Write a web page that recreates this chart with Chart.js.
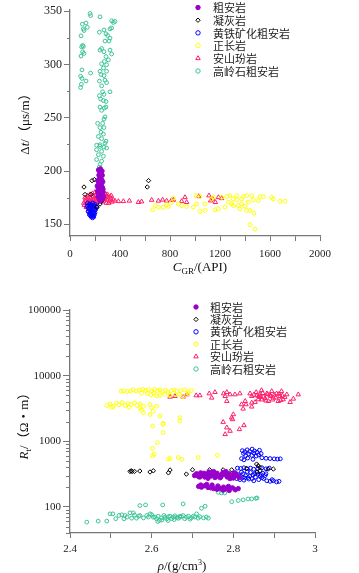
<!DOCTYPE html>
<html><head><meta charset="utf-8">
<script src="https://cdn.jsdelivr.net/npm/chart.js@4/dist/chart.umd.min.js"></script>
<style>
html,body{margin:0;padding:0;background:#fff;}
#wrap{position:relative;width:359px;height:573px;overflow:hidden;background:#fff;}
.box{position:absolute;left:0;width:359px;}
.ttl{position:absolute;white-space:nowrap;font-family:"Liberation Serif","Noto Sans CJK SC",serif;font-size:13px;color:#111;transform:translate(-50%,-50%);line-height:1;}
.rot{transform:translate(-50%,-50%) rotate(-90deg);}
.ttl sub{font-size:9px;vertical-align:-3px;}
.ttl sup{font-size:8px;vertical-align:5px;}
</style></head><body>
<div id="wrap">
 <div class="box" style="top:0;height:285px"><canvas id="cTop"></canvas></div>
 <div class="box" style="top:290px;height:283px"><canvas id="cBot"></canvas></div>
 <div class="ttl rot" style="left:24px;top:121px">Δ<i>t</i>/（μs/m）</div>
 <div class="ttl" style="left:200px;top:268px"><i>C</i><sub>GR</sub>/(API)</div>
 <div class="ttl rot" style="left:25px;top:423px"><i>R</i><sub>t</sub>/（Ω・m）</div>
 <div class="ttl" style="left:182px;top:565px"><i>ρ</i>/(g/cm<sup>3</sup>)</div>
</div>
<script>
// ---------- labels ----------
const legendLabels = ['粗安岩','凝灰岩','黄铁矿化粗安岩','正长岩','安山玢岩','高岭石粗安岩'];
const topXTicks = [0,200,400,600,800,1000,1200,1400,1600,1800,2000];
const topXTickLabels = ['0','','400','','800','','1200','','1600','','2000'];
const topYTicks = [150,200,250,300,350];
const topYMinor = [175,225,275,325];
const botXTicks = [2.4,2.5,2.6,2.7,2.8,2.9,3.0];
const botXTickLabels = ['2.4','','2.6','','2.8','','3'];
const botYTicks = [100,1000,10000,100000];
const botYMinor = [40,50,60,70,80,90,200,300,400,500,600,700,800,900,2000,3000,4000,5000,6000,7000,8000,9000,20000,30000,40000,50000,60000,70000,80000,90000];

// ---------- top chart: CGR (API) vs Δt (μs/m) ----------
const topTrachy = [[228,201],[240,199],[250,198],[232,196],[246,195],[258,196],[236,193],[252,192],[222,191],[244,190],[262,190],[230,188],[250,187],[238,186],[258,185],[226,184],[246,183],[234,182],[254,182],[220,181],[242,180],[262,180],[230,179],[250,178],[238,177],[258,177],[224,176],[246,175],[268,176],[234,174],[252,173],[240,172],[226,178],[264,183],[218,186],[248,189],[236,197],[256,200],[244,202],[260,174]];
const topTuff = [[112,185],[120,178],[168,178],[176,191],[195,192],[628,191],[618,185],[215,166],[255,172],[240,169]];
const topPyrite = [[140,170],[150,168],[160,169],[170,168],[180,170],[190,168],[200,169],[210,167],[145,165],[155,164],[165,165],[175,166],[185,164],[195,165],[205,164],[150,162],[160,161],[170,162],[180,161],[190,162],[200,161],[155,159],[165,158],[175,159],[185,158],[195,159],[170,157],[180,156],[160,160],[190,160],[135,167],[215,166],[175,163],[165,167],[185,167],[145,162],[200,163],[170,160],[180,158],[190,157]];
const topSyenite = [[680,167.6],[661,163.6],[707,166],[747,166],[773,168.5],[787,166.7],[827,174.7],[813,170.6],[867,169.1],[893,167.6],[933,166.7],[987,166.1],[1013,169.2],[1008,176.9],[1040,176],[1080,169.2],[1080,163],[1040,162.1],[1133,173.8],[1147,175.3],[1160,163.6],[1187,164.5],[1213,175.3],[1253,176],[1267,170.7],[1293,169.2],[1307,173.8],[1333,172.9],[1347,167.6],[1373,173.8],[1387,176],[1413,176.9],[1427,170.7],[1440,163],[1413,163],[1453,176.9],[1467,172.9],[1507,172.3],[1547,176],[1613,175.3],[1627,173.8],[1680,171.6],[1720,171.6],[1472,160.5],[1440,149.7],[1480,145.4],[1307,167.6],[1240,166.1],[1360,164.5],[1400,167],[1520,176],[1280,176.9],[1333,176.9],[1373,169.2]];
const topAndesite = [[115,168],[125,172],[135,170],[145,174],[155,172],[165,175],[175,173],[185,176],[195,174],[205,177],[215,175],[225,178],[235,176],[245,179],[255,175],[265,177],[275,174],[285,176],[295,173],[305,175],[315,172],[325,174],[335,171],[345,173],[130,166],[150,167],[170,169],[190,170],[210,171],[230,172],[250,171],[270,172],[290,170],[310,170],[120,175],[140,177],[160,178],[180,179],[200,180],[220,180],[240,181],[260,180],[280,179],[110,170],[128,174],[148,171],[168,172],[188,173],[208,173],[228,174],[248,173],[268,174],[288,178],[300,178],[320,176],[330,177],[138,168],[158,166],[178,167],[198,167],[360,172],[387,171.6],[427,171.6],[475,172],[547,170.7],[573,171.3],[653,172.8],[707,172],[741,173],[773,172],[813,172.8],[827,172.8],[920,175.3],[893,171.6],[933,170.7],[1029,176.2],[1112,176.9],[1125,172.2],[1141,173.8],[1163,170.7],[1187,175.3],[1213,174.4]];
const topKaolin = [[99,338],[128,339],[139,335],[107,333.5],[112,332],[88,327],[101,318],[107,317],[93,316.6],[101,312],[112,310.5],[88,308],[96,295],[85,289],[96,287],[128,284.6],[91,281.5],[85,278.5],[165,292],[160,348],[165,346],[240,344.8],[320,333.5],[347,339.6],[333,341.1],[360,340.5],[333,334.4],[288,328.9],[301,327.3],[320,324.9],[235,330.4],[272,332.5],[280,322.1],[312,322.1],[240,313.6],[272,312.1],[253,315.1],[320,313.6],[333,309.9],[288,307.5],[307,304.4],[275,302.9],[293,299.8],[253,300.7],[267,296.8],[240,293.7],[293,293.7],[248,290.7],[272,289.7],[235,284.5],[280,285.4],[293,283],[253,280],[320,274.4],[261,274.4],[272,272],[235,270.8],[245,267.7],[267,266.2],[288,265.3],[240,260.1],[275,259.2],[253,257],[288,260.1],[280,250.9],[272,248.8],[221,244.8],[261,244.8],[240,240.8],[272,240.8],[248,236.5],[267,234.7],[227,232.5],[253,230.4],[288,228],[213,224.3],[240,223.1],[272,222.5],[240,224.7],[280,226.2],[213,220],[253,218.5],[293,221.6],[227,215.4],[267,213.9],[213,210.8],[253,209.3],[240,206.2],[235,203.7]];

// ---------- bottom chart: ρ (g/cm3) vs Rt (Ω·m) ----------
const botTrachy = [[2.705,300],[2.710,320],[2.715,290],[2.720,330],[2.725,305],[2.730,285],[2.735,315],[2.740,340],[2.745,295],[2.750,310],[2.755,280],[2.760,325],[2.765,300],[2.770,290],[2.775,335],[2.780,310],[2.785,285],[2.790,320],[2.795,300],[2.800,275],[2.805,315],[2.810,295],[2.815,280],[2.712,305],[2.728,325],[2.742,300],[2.758,290],[2.772,315],[2.788,300],[2.802,330],[2.718,285],[2.748,330],[2.768,278],[2.782,345],[2.798,288],[2.808,305],[2.738,272],[2.752,345],[2.792,270],[2.722,310],[2.715,205],[2.722,200],[2.730,210],[2.738,198],[2.745,195],[2.752,190],[2.760,185],[2.768,192],[2.775,180],[2.782,188],[2.790,178],[2.798,195],[2.805,182],[2.812,190],[2.735,220],[2.748,215],[2.762,208],[2.776,200],[2.788,205],[2.720,215]];
const botTuff = [[2.547,347],[2.552,347],[2.558,347],[2.550,355],[2.571,352],[2.596,340],[2.604,355],[2.641,330],[2.645,365],[2.685,316],[2.700,367],[2.738,316],[2.742,367],[2.775,367],[2.775,316],[2.796,367],[2.832,385],[2.857,449],[2.861,423],[2.865,399],[2.865,355],[2.858,336],[2.885,377],[2.898,377]];
const botPyrite = [[2.822,720],[2.828,690],[2.834,740],[2.840,700],[2.846,760],[2.852,710],[2.858,680],[2.864,730],[2.825,650],[2.838,640],[2.850,660],[2.862,620],[2.830,600],[2.845,610],[2.856,595],[2.868,650],[2.820,545],[2.835,555],[2.870,560],[2.880,550],[2.890,545],[2.900,540],[2.908,535],[2.915,540],[2.826,520],[2.848,530],[2.810,390],[2.818,385],[2.826,395],[2.834,380],[2.842,390],[2.850,375],[2.860,385],[2.870,395],[2.880,380],[2.888,390],[2.805,330],[2.812,310],[2.818,290],[2.824,320],[2.830,300],[2.836,280],[2.842,335],[2.848,305],[2.854,285],[2.860,315],[2.866,295],[2.872,325],[2.878,300],[2.808,270],[2.816,260],[2.826,255],[2.838,265],[2.850,250],[2.862,260],[2.874,270],[2.882,250],[2.820,340],[2.834,345],[2.846,270],[2.858,340],[2.870,280],[2.880,320],[2.814,285],[2.852,320],[2.868,310],[2.840,295],[2.828,275],[2.890,245],[2.898,250],[2.906,240],[2.912,245],[2.895,260]];
const botSyenite = [[2.525,5780],[2.531,5900],[2.540,5700],[2.548,5850],[2.555,6100],[2.562,5800],[2.570,6000],[2.578,6150],[2.585,5950],[2.592,6100],[2.600,5800],[2.607,6150],[2.614,5900],[2.620,6050],[2.627,5700],[2.634,6000],[2.640,5600],[2.648,5900],[2.655,6050],[2.662,5750],[2.670,5900],[2.680,6100],[2.690,5700],[2.697,5950],[2.590,5300],[2.598,5100],[2.612,4900],[2.620,5000],[2.632,5200],[2.645,4950],[2.658,5100],[2.668,5200],[2.689,5330],[2.677,4780],[2.605,5500],[2.575,5400],[2.490,3500],[2.498,3700],[2.506,3400],[2.514,3800],[2.520,3600],[2.528,3900],[2.535,3500],[2.542,3750],[2.550,3600],[2.558,3850],[2.565,3500],[2.572,3700],[2.580,3400],[2.502,3300],[2.545,3300],[2.571,3240],[2.575,2980],[2.596,3630],[2.600,3240],[2.604,2870],[2.620,2420],[2.596,2560],[2.669,2290],[2.612,3420],[2.580,2720],[2.628,1810],[2.602,1706],[2.628,1875],[2.628,1355],[2.614,955],[2.602,774],[2.606,635],[2.602,599],[2.645,547],[2.641,533],[2.665,566],[2.669,2030],[2.674,530],[2.714,566],[2.761,610]];
const botAndesite = [[2.645,4750],[2.657,4860],[2.677,4750],[2.686,5150],[2.709,4980],[2.718,4980],[2.741,5330],[2.747,4590],[2.755,5580],[2.776,5330],[2.780,4860],[2.784,5580],[2.792,5150],[2.804,5150],[2.816,5330],[2.829,4080],[2.841,5330],[2.845,4860],[2.853,3940],[2.856,5580],[2.861,4330],[2.865,5150],[2.869,5980],[2.874,4750],[2.882,5330],[2.886,4080],[2.890,4980],[2.894,5780],[2.898,4590],[2.906,5330],[2.910,4080],[2.914,4860],[2.918,5780],[2.922,4330],[2.931,5150],[2.939,3940],[2.947,4430],[2.959,5150],[2.858,5000],[2.866,4700],[2.872,5400],[2.878,4500],[2.884,5200],[2.892,4850],[2.900,5100],[2.904,4600],[2.912,5250],[2.920,4950],[2.926,4700],[2.870,4300],[2.880,4150],[2.896,4300],[2.916,4200],[2.850,5100],[2.862,4850],[2.784,4083],[2.820,3640],[2.831,3640],[2.845,3855],[2.845,3357],[2.824,3126],[2.800,2564],[2.796,2286],[2.798,2154],[2.775,1960],[2.784,1614],[2.792,1432],[2.815,1520],[2.826,1746],[2.780,1276]];
const botKaolin = [[2.441,58.6],[2.469,60.7],[2.490,60.7],[2.498,78.3],[2.505,78.3],[2.527,75.7],[2.535,73.9],[2.547,81.1],[2.555,81.1],[2.551,67.3],[2.532,65.8],[2.563,67.3],[2.571,104.7],[2.585,107],[2.571,73.9],[2.588,73.9],[2.596,78.3],[2.604,69.7],[2.612,65.8],[2.619,62.1],[2.627,107],[2.633,69.7],[2.637,65.8],[2.645,72.3],[2.653,69.7],[2.661,68.9],[2.669,69.7],[2.669,72.3],[2.677,73.9],[2.685,69.7],[2.702,72.3],[2.710,78.3],[2.714,67.3],[2.722,95.5],[2.731,102.4],[2.739,67.3],[2.677,111],[2.763,167],[2.771,163],[2.779,163],[2.796,120],[2.812,125],[2.824,128],[2.836,132],[2.845,132],[2.855,135],[2.858,137],[2.608,70],[2.616,72],[2.624,68],[2.630,74],[2.641,71],[2.649,66],[2.657,73],[2.665,67],[2.673,71],[2.681,66],[2.690,72],[2.697,68],[2.706,70],[2.718,71],[2.727,68],[2.734,70],[2.625,63],[2.600,76],[2.592,70],[2.580,68],[2.568,72],[2.558,75],[2.540,70],[2.520,74],[2.512,66],[2.615,60],[2.640,62],[2.655,64],[2.694,65]];

// ---------- styling ----------
const colors = ['#9900cc','#000000','#0000ff','#ffff00','#ff1f6b','#3cc495'];
const styles = ['circle','rectRot','circle','circle','triangle','circle'];
const filled = [true,false,false,false,false,false];
const radii = [2.2,2.2,1.9,1.9,2.6,1.9];
const AXIS = '#777';

function makeSets(series){
  return series.map((s,i)=>({
    label: legendLabels[i],
    data: s.map(([x,y])=>({x,y})),
    pointStyle: styles[i], pointRadius: radii[i], pointHoverRadius: radii[i],
    borderWidth: 1, borderColor: colors[i],
    backgroundColor: filled[i] ? colors[i] : 'rgba(255,255,255,0)'
  }));
}

function shape(ctx, style, cx, cy, r){
  ctx.beginPath();
  if (style === 'circle') ctx.arc(cx, cy, r, 0, Math.PI*2);
  else if (style === 'triangle') {
    ctx.moveTo(cx, cy - r);
    ctx.lineTo(cx + r*Math.sin(2*Math.PI/3), cy - r*Math.cos(2*Math.PI/3));
    ctx.lineTo(cx + r*Math.sin(4*Math.PI/3), cy - r*Math.cos(4*Math.PI/3));
    ctx.closePath();
  } else {
    ctx.moveTo(cx, cy - r); ctx.lineTo(cx + r, cy); ctx.lineTo(cx, cy + r); ctx.lineTo(cx - r, cy); ctx.closePath();
  }
  ctx.fill(); ctx.stroke();
}

const customLegend = {
  id: 'customLegend',
  afterDraw(chart, args, o){
    const ctx = chart.ctx; ctx.save();
    ctx.font = '11px "Noto Sans CJK SC", sans-serif';
    ctx.textBaseline = 'middle'; ctx.textAlign = 'left';
    chart.data.datasets.forEach((ds, i) => {
      const cx = o.x, cy = o.y + i*o.step;
      ctx.fillStyle = ds.backgroundColor; ctx.strokeStyle = ds.borderColor; ctx.lineWidth = 1;
      shape(ctx, ds.pointStyle, cx, cy, ds.pointStyle === 'triangle' ? 2.6 : 2.2);
      ctx.fillStyle = '#222';
      ctx.fillText(ds.label, cx + o.gap, cy + 0.5);
    });
    ctx.restore();
  }
};

const minorTicks = {
  id: 'minorTicks',
  afterDraw(chart, args, o){
    const s = chart.scales.y, ctx = chart.ctx;
    ctx.save(); ctx.strokeStyle = AXIS; ctx.lineWidth = 1; ctx.beginPath();
    o.values.forEach(v => {
      const p = Math.round(s.getPixelForValue(v)) + 0.5;
      ctx.moveTo(s.right - o.len, p); ctx.lineTo(s.right, p);
    });
    ctx.stroke(); ctx.restore();
  }
};

const tickFont = (sz) => ({family: 'Liberation Serif', size: sz});
const gridOpts = (len) => ({display: true, drawOnChartArea: false, drawTicks: true, tickLength: len, color: AXIS});
const borderOpts = {display: true, color: AXIS, width: 1.3};

new Chart(document.getElementById('cTop'), {
  type: 'scatter',
  data: {datasets: makeSets([topTrachy, topTuff, topPyrite, topSyenite, topAndesite, topKaolin])},
  options: {
    responsive: true, maintainAspectRatio: false, animation: false, devicePixelRatio: 1,
    layout: {padding: {left: 0, right: 39, top: 5, bottom: 0}},
    plugins: {
      legend: {display: false}, tooltip: {enabled: false},
      customLegend: {x: 198, y: 7.5, step: 12.7, gap: 15},
      minorTicks: {values: topYMinor, len: 3}
    },
    scales: {
      x: {
        type: 'linear', min: 0, max: 2000,
        afterFit: s => { s.height = 49; },
        afterBuildTicks: s => { s.ticks = topXTicks.map(v => ({value: v})); },
        ticks: {callback: (v, i) => topXTickLabels[i], font: tickFont(11), color: '#222', padding: 7, maxRotation: 0, autoSkip: false},
        grid: gridOpts(5), border: borderOpts
      },
      y: {
        type: 'linear', min: 139, max: 352,
        afterFit: s => { s.width = 70; },
        afterBuildTicks: s => { s.ticks = topYTicks.map(v => ({value: v})); },
        ticks: {callback: v => String(v), font: tickFont(12), color: '#222', padding: 2, autoSkip: false},
        grid: gridOpts(6), border: borderOpts
      }
    }
  },
  plugins: [customLegend, minorTicks]
});

new Chart(document.getElementById('cBot'), {
  type: 'scatter',
  data: {datasets: makeSets([botTrachy, botTuff, botPyrite, botSyenite, botAndesite, botKaolin])},
  options: {
    responsive: true, maintainAspectRatio: false, animation: false, devicePixelRatio: 1,
    layout: {padding: {left: 0, right: 44, top: 20, bottom: 0}},
    plugins: {
      legend: {display: false}, tooltip: {enabled: false},
      customLegend: {x: 196, y: 17, step: 12.4, gap: 14},
      minorTicks: {values: botYMinor, len: 4}
    },
    scales: {
      x: {
        type: 'linear', min: 2.4, max: 3.0,
        afterFit: s => { s.height = 40; },
        afterBuildTicks: s => { s.ticks = botXTicks.map(v => ({value: v})); },
        ticks: {callback: (v, i) => botXTickLabels[i], font: tickFont(11), color: '#222', padding: 5, maxRotation: 0, autoSkip: false},
        grid: gridOpts(5), border: borderOpts
      },
      y: {
        type: 'logarithmic', min: 40, max: 100000,
        afterFit: s => { s.width = 70; },
        afterBuildTicks: s => { s.ticks = botYTicks.map(v => ({value: v})); },
        ticks: {callback: v => String(v), font: tickFont(11), color: '#222', padding: 2, autoSkip: false},
        grid: gridOpts(7), border: borderOpts
      }
    }
  },
  plugins: [customLegend, minorTicks]
});
</script>
</body></html>
